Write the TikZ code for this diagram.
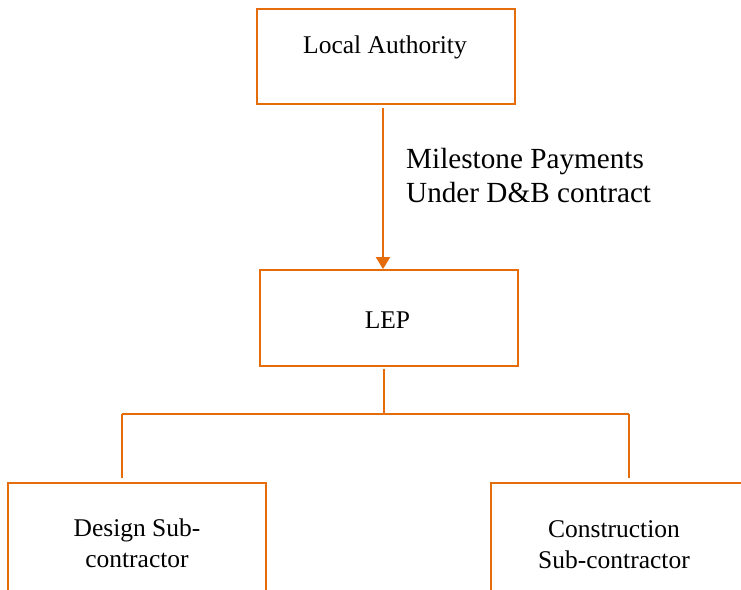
\documentclass[tikz,border=0pt]{standalone}
\usepackage{fontspec}
\setmainfont{Liberation Serif}
\usetikzlibrary{arrows,arrows.meta,shapes}
\definecolor{boxorange}{RGB}{228,108,10}
\tikzstyle{box}=[draw=boxorange,line width=1.8pt,rectangle,inner sep=0pt]
\tikzstyle{boxtext}=[font=\fontsize{25.5}{31}\selectfont,align=center,inner sep=0pt]
\tikzstyle{edge} = [draw=boxorange,line width=2pt,-]
\tikzstyle{payment} = [draw=boxorange,line width=2pt,-{Triangle[width=14pt,length=12pt]}]

\begin{document}
\begin{tikzpicture}[x=1pt,y=-1pt]
        \useasboundingbox (0,0) rectangle (741,589);
        \clip (0,0) rectangle (741,589);
        %\fill[white] (0,0) rectangle (741,589);
        \node[box,minimum width=258pt,minimum height=95pt] (la) at (386,56.5) {};
        \node[box,minimum width=258pt,minimum height=96pt] (lep) at (389,318) {};
        \node[box,minimum width=258pt,minimum height=140pt] (design) at (137,553) {};
        \node[box,minimum width=300pt,minimum height=140pt] (constr) at (641,553) {};
        \node[boxtext,anchor=base] (latext) at (385,53) {Local Authority};
        \node[boxtext,anchor=base] (leptext) at (387.5,328) {LEP};
        \node[boxtext,anchor=base] (designtext) at (137,567) {Design Sub-\\contractor};
        \node[boxtext,anchor=base] (constrtext) at (614,568) {Construction\\Sub-contractor};
        \node[font=\fontsize{29.2}{34}\selectfont,align=left,inner sep=0pt,anchor=base west] (paytext) at (406,202) {Milestone Payments\\Under D\&B contract};
        \coordinate (split) at (384,414);
        \coordinate (jl) at (122,414);
        \coordinate (jr) at (629,414);
        \draw[payment,shorten <=3pt] ([xshift=-3pt]la.south) to ([xshift=-6pt]lep.north);
        \draw[edge,shorten <=2pt] (lep.south -| split) to (split);
        \draw[edge] (jl) to (jr);
        \draw[edge,shorten >=4pt] (jl) to (jl |- design.north);
        \draw[edge,shorten >=4pt] (jr) to (jr |- constr.north);
      \end{tikzpicture}
\end{document}
